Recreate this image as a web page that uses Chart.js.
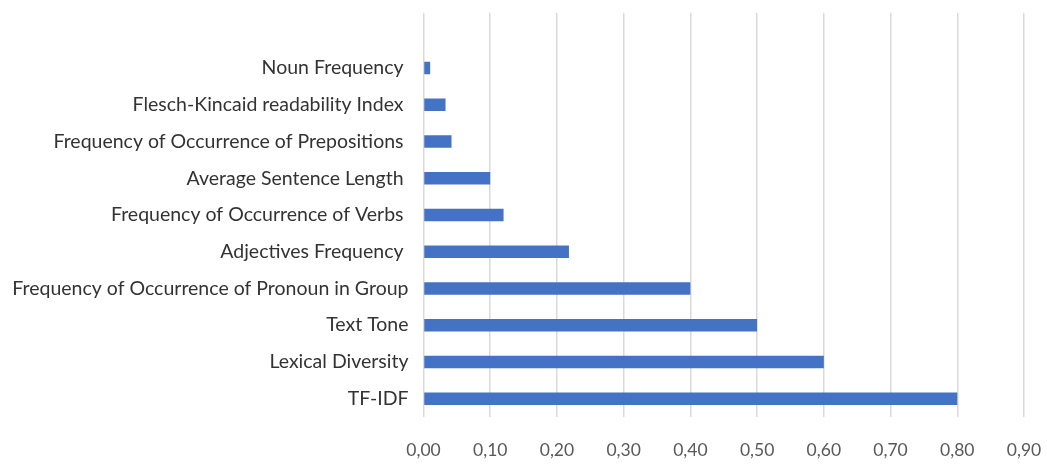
<!DOCTYPE html>
<html>
<head>
<meta charset="utf-8">
<script src="https://cdn.jsdelivr.net/npm/chart.js@4/dist/chart.umd.min.js"></script>
<style>
  html, body { margin: 0; padding: 0; background: #ffffff; }
  #wrap { width: 1047px; height: 472px; }
</style>
</head>
<body>
<div id="wrap"><canvas id="chart" width="1047" height="472"></canvas></div>
<script>
// Feature names, listed top to bottom
const categories = [
  'Noun Frequency ',
  'Flesch-Kincaid readability Index ',
  'Frequency of Occurrence of Prepositions ',
  'Average Sentence Length ',
  'Frequency of Occurrence of Verbs ',
  'Adjectives Frequency ',
  'Frequency of Occurrence of Pronoun in Group',
  'Text Tone',
  'Lexical Diversity',
  'TF-IDF'
];

// Importance score of each feature
const importance = [0.01, 0.033, 0.042, 0.10, 0.12, 0.218, 0.40, 0.50, 0.60, 0.80];

// Value axis tick labels (comma decimal separator)
const tickLabels = ['0,00', '0,10', '0,20', '0,30', '0,40', '0,50', '0,60', '0,70', '0,80', '0,90'];

// An empty slot above the first feature keeps the spacing of the source sheet
const labels = [''].concat(categories);
const values = [null].concat(importance);

const FONT = 'Lato, "Open Sans", sans-serif';

new Chart(document.getElementById('chart'), {
  type: 'bar',
  data: {
    labels: labels,
    datasets: [{
      data: values,
      backgroundColor: '#4472C4',
      borderWidth: 0,
      categoryPercentage: 1.0,
      barPercentage: 0.34
    }]
  },
  options: {
    indexAxis: 'y',
    responsive: false,
    animation: false,
    layout: { padding: { top: 13, right: 23, bottom: 0, left: 0 } },
    plugins: {
      legend: { display: false },
      tooltip: { enabled: false }
    },
    scales: {
      x: {
        min: 0,
        max: 0.9,
        afterFit: (s) => { s.height = 55; s.paddingLeft = 0; s.paddingRight = 0; },
        border: { display: false },
        grid: { color: '#d9d9d9', lineWidth: 1.5, drawTicks: false },
        ticks: {
          stepSize: 0.1,
          padding: 23,
          color: '#595959',
          font: { family: FONT, size: 17.5 },
          maxRotation: 0,
          callback: (v, i) => tickLabels[i]
        }
      },
      y: {
        afterFit: (s) => { s.width = 423.5; s.paddingTop = 0; s.paddingBottom = 0; },
        border: { display: false },
        grid: { display: false, drawTicks: false },
        ticks: {
          padding: 15,
          color: '#333333',
          font: { family: FONT, size: 19.5 },
          autoSkip: false
        }
      }
    }
  }
});
</script>
</body>
</html>
